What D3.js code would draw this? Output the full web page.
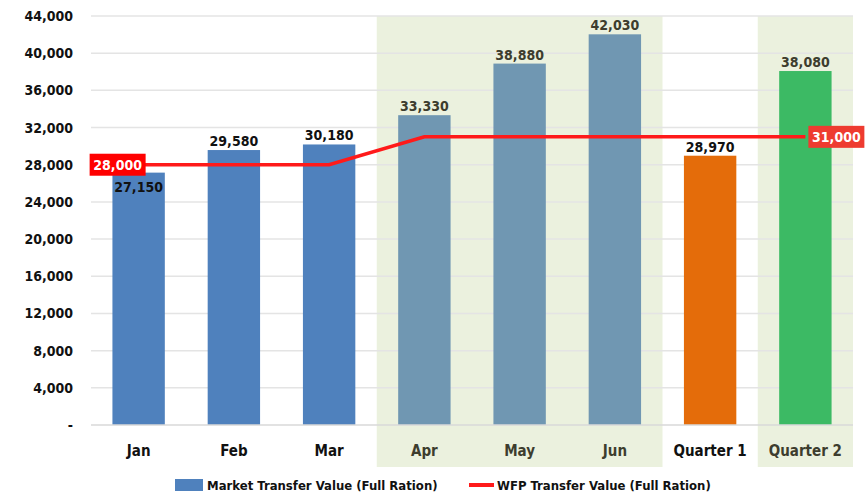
<!DOCTYPE html>
<html>
<head>
<meta charset="utf-8">
<script src="https://cdn.jsdelivr.net/npm/d3@7"></script>
<style>
  body { margin: 0; background: #fff; }
  text { font-family: "Liberation Sans Narrow", "DejaVu Sans Condensed", "Roboto", sans-serif; font-weight: bold; }
</style>
</head>
<body>
<div id="chart"></div>
<script>
// chart data
const categories = ["Jan", "Feb", "Mar", "Apr", "May", "Jun", "Quarter 1", "Quarter 2"];
const marketValues = [27150, 29580, 30180, 33330, 38880, 42030, 28970, 38080];
const wfpValues = [28000, 28000, 28000, 31000, 31000, 31000, 31000, 31000];
const yTicks = [0, 4000, 8000, 12000, 16000, 20000, 24000, 28000, 32000, 36000, 40000, 44000];
const shadedGroups = [["Apr", "Jun"], ["Quarter 2", "Quarter 2"]];
const legendLabels = ["Market Transfer Value (Full Ration)", "WFP Transfer Value (Full Ration)"];

const width = 867, height = 494;
const margin = { top: 16, right: 14, bottom: 69, left: 91 };

// colours per bar
const barColor = i => i < 3 ? "#4f81bd" : i < 6 ? "#7097b2" : i === 6 ? "#e46c0a" : "#3cba64";
const labelColor = i => (i >= 3 && i <= 5) || i === 7 ? "#3d3d2e" : "#111";

const svg = d3.select("#chart").append("svg")
    .attr("width", width)
    .attr("height", height);

const x = d3.scaleBand()
    .domain(categories)
    .range([margin.left, width - margin.right])
    .paddingInner(0.45)
    .paddingOuter(0.225);

const y = d3.scaleLinear()
    .domain([0, 44000])
    .range([height - margin.bottom, margin.top]);

// shaded backgrounds for the second quarter
const step = x.step();
shadedGroups.forEach(([a, b]) => {
    const x0 = x(a) + x.bandwidth() / 2 - step / 2;
    const x1 = x(b) + x.bandwidth() / 2 + step / 2;
    svg.append("rect")
        .attr("x", x0)
        .attr("y", margin.top)
        .attr("width", x1 - x0)
        .attr("height", 467 - margin.top)
        .attr("fill", "#ebf1de");
});

// gridlines
svg.append("g")
    .selectAll("line")
    .data(yTicks.slice(1))
    .join("line")
    .attr("x1", margin.left)
    .attr("x2", width - margin.right)
    .attr("y1", d => y(d))
    .attr("y2", d => y(d))
    .attr("stroke", "#e4e4e4")
    .attr("stroke-width", 1.5);

// y axis
const yAxis = svg.append("g")
    .attr("transform", `translate(${margin.left},0)`)
    .call(d3.axisLeft(y)
        .tickValues(yTicks)
        .tickSize(0)
        .tickPadding(18)
        .tickFormat(d => d === 0 ? "-" : d3.format(",")(d)));
yAxis.select(".domain").remove();
yAxis.selectAll("text")
    .attr("font-size", 14)
    .attr("fill", "#111");

// bars
svg.append("g")
    .selectAll("rect")
    .data(marketValues)
    .join("rect")
    .attr("x", (d, i) => x(categories[i]))
    .attr("y", d => y(d))
    .attr("width", x.bandwidth())
    .attr("height", d => y(0) - y(d))
    .attr("fill", (d, i) => barColor(i));

// baseline
svg.append("line")
    .attr("x1", margin.left)
    .attr("x2", width - margin.right)
    .attr("y1", y(0))
    .attr("y2", y(0))
    .attr("stroke", "#d9d9d9")
    .attr("stroke-width", 1.5);

// x axis labels
const xAxis = svg.append("g")
    .attr("transform", `translate(0,${y(0)})`)
    .call(d3.axisBottom(x).tickSize(0).tickPadding(20));
xAxis.select(".domain").remove();
xAxis.selectAll("text")
    .attr("font-size", 15)
    .attr("fill", (d, i) => labelColor(i));

// bar value labels
svg.append("g")
    .selectAll("text")
    .data(marketValues)
    .join("text")
    .attr("x", (d, i) => x(categories[i]) + x.bandwidth() / 2)
    .attr("y", (d, i) => i === 0 ? y(d) + 19 : y(d) - 4)
    .attr("text-anchor", "middle")
    .attr("font-size", 14)
    .attr("fill", (d, i) => labelColor(i))
    .text(d => d3.format(",")(d));

// WFP line
const line = d3.line()
    .x((d, i) => x(categories[i]) + x.bandwidth() / 2)
    .y(d => y(d));

svg.append("path")
    .datum(wfpValues)
    .attr("d", line)
    .attr("fill", "none")
    .attr("stroke", "#ff1a1a")
    .attr("stroke-width", 3.5);

// red value tags at both ends
const tags = [
    { i: 0, anchor: "end" },
    { i: wfpValues.length - 1, anchor: "start" }
];
tags.forEach(t => {
    const cx = x(categories[t.i]) + x.bandwidth() / 2;
    const cy = y(wfpValues[t.i]);
    const w = 56, h = 22;
    const bx = t.anchor === "end" ? cx - w + 7 : cx + 3;
    svg.append("rect")
        .attr("x", bx)
        .attr("y", cy - h / 2)
        .attr("width", w)
        .attr("height", h)
        .attr("fill", t.i === 0 ? "#ff0000" : "#ee3b30");
    svg.append("text")
        .attr("x", bx + w / 2)
        .attr("y", cy + 5)
        .attr("text-anchor", "middle")
        .attr("font-size", 14)
        .attr("fill", "#fff")
        .text(d3.format(",")(wfpValues[t.i]));
});

// legend
const legend = svg.append("g").attr("transform", "translate(0,485)");
legend.append("rect")
    .attr("x", 175).attr("y", -6)
    .attr("width", 28).attr("height", 12)
    .attr("fill", "#4f81bd");
legend.append("text")
    .attr("x", 207).attr("y", 5)
    .attr("font-size", 13)
    .attr("fill", "#111")
    .text(legendLabels[0]);
legend.append("line")
    .attr("x1", 469).attr("x2", 494)
    .attr("y1", 0).attr("y2", 0)
    .attr("stroke", "#ff1a1a")
    .attr("stroke-width", 4);
legend.append("text")
    .attr("x", 497).attr("y", 5)
    .attr("font-size", 13)
    .attr("fill", "#111")
    .text(legendLabels[1]);
</script>
</body>
</html>
